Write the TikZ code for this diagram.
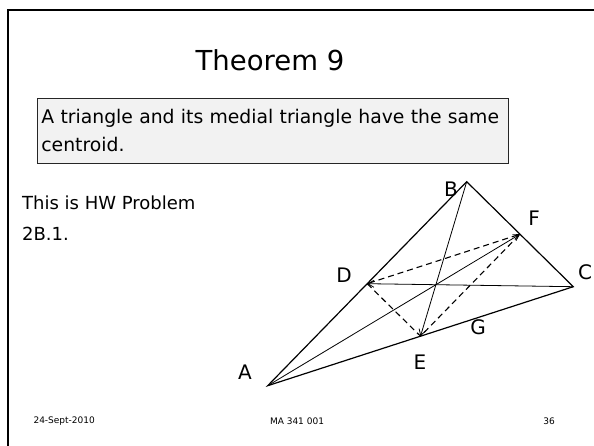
\documentclass[tikz,border=0pt]{standalone}
\usepackage{fontspec}
\setmainfont{DejaVu Sans}
\usepackage{xcolor}
\usetikzlibrary{arrows.meta, calc}

\begin{document}
\begin{tikzpicture}[x=1pt,y=-1pt,
    side/.style={line width=1.2pt},
    median/.style={line width=0.8pt, -{Straight Barb[length=6pt,width=7pt]}},
    medial/.style={line width=1.1pt, dash pattern=on 6pt off 4pt},
    vlabel/.style={font=\fontsize{20}{20}\selectfont},
    foot/.style={font=\fontsize{9}{9}\selectfont}]
  \useasboundingbox (0,0) rectangle (594,446);
  % slide frame
  \draw[line width=2.5pt] (8,446) -- (8,10) -- (594,10);
  % ---- titulo ----
  \node[font=\fontsize{27.5}{30}\selectfont] (title) at (270,60) {Theorem 9};
  \node[draw=black!85, line width=0.8pt, fill=black!5, anchor=north west,
        minimum width=471pt, minimum height=65pt, text width=463pt,
        inner xsep=3pt, align=left, font=\fontsize{18.8}{28}\selectfont]
        (stmt) at (37,98) {A triangle and its medial triangle have the same\\centroid.};
  \node[anchor=west, align=left, inner sep=0pt, font=\fontsize{18}{31}\selectfont]
        (hw) at (22,218) {This is HW Problem\\2B.1.};
  % ---- triangulo ----
  \coordinate (A) at (267.7,385.7);
  \coordinate (B) at (466.7,181.7);
  \coordinate (C) at (573.3,286.7);
  \coordinate (D) at ($(A)!0.5!(B)$);
  \coordinate (E) at ($(A)!0.5!(C)$);
  \coordinate (F) at ($(B)!0.5!(C)$);
  \draw[side] (A) -- (B) -- (C) -- cycle;
  % medianas
  \draw[median] (C) -- (D);
  \draw[median] (B) -- (E);
  \draw[median] (A) -- (F);
  % triangulo medial
  \draw[medial] (D) -- (E) -- (F) -- cycle;
  % ---- rotulos ----
  \node[vlabel] (lA) at (245,372) {A};
  \node[vlabel] (lB) at (451,189) {B};
  \node[vlabel] (lC) at (585,272) {C};
  \node[vlabel] (lD) at (344,275) {D};
  \node[vlabel] (lE) at (420,362) {E};
  \node[vlabel] (lF) at (534,218) {F};
  \node[vlabel] (lG) at (478,327) {G};
  % ---- rodape ----
  \node[foot, anchor=west] (date) at (30,421) {24-Sept-2010};
  \node[foot] (course) at (297,421) {MA 341 001};
  \node[foot] (page) at (549,421) {36};
\end{tikzpicture}
\end{document}
